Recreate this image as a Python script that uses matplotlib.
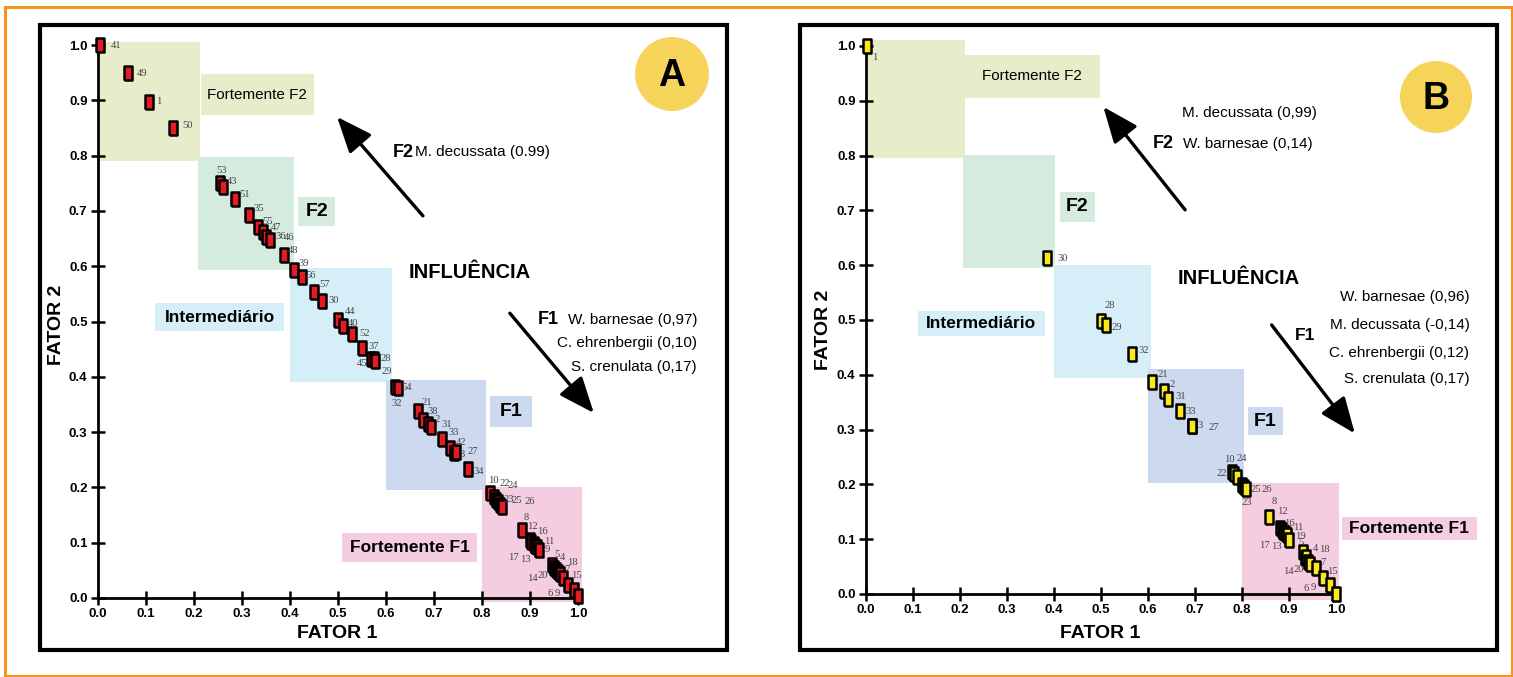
import matplotlib
matplotlib.use('Agg')
import matplotlib.pyplot as plt
from matplotlib.patches import Rectangle, Ellipse
import matplotlib.font_manager as fm

# ---------------- DATA ----------------
ticks = [0.0, 0.1, 0.2, 0.3, 0.4, 0.5, 0.6, 0.7, 0.8, 0.9, 1.0]
tick_labels = ['0.0', '0.1', '0.2', '0.3', '0.4', '0.5', '0.6', '0.7', '0.8', '0.9', '1.0']

# Panel A (sample id, fator 1, fator 2)
a_ids = ['41', '49', '1', '50', '53', '43', '51', '35', '55', '47', '36', '46', '48', '39',
         '56', '57', '30', '44', '40', '52', '37', '45', '28', '29', '32', '54', '21', '38',
         '2', '31', '33', '42', '3', '27', '34', '10', '22', '24', '23', '25', '26', '8',
         '12', '17', '16', '13', '11', '9', '5', '4', '18', '14', '20', '7', '15', '6', '9']
a_f1 = [0.005, 0.062, 0.106, 0.157, 0.254, 0.261, 0.285, 0.315, 0.334, 0.343, 0.351, 0.358,
        0.388, 0.409, 0.424, 0.450, 0.466, 0.501, 0.511, 0.529, 0.549, 0.569, 0.574, 0.577,
        0.619, 0.626, 0.667, 0.678, 0.687, 0.694, 0.717, 0.733, 0.742, 0.746, 0.771, 0.817,
        0.824, 0.829, 0.834, 0.838, 0.841, 0.883, 0.900, 0.903, 0.908, 0.910, 0.914, 0.918,
        0.945, 0.950, 0.954, 0.958, 0.963, 0.969, 0.980, 0.992, 1.000]
a_f2 = [1.000, 0.949, 0.897, 0.850, 0.750, 0.744, 0.722, 0.693, 0.670, 0.661, 0.652, 0.647,
        0.620, 0.594, 0.581, 0.553, 0.537, 0.503, 0.492, 0.477, 0.452, 0.432, 0.433, 0.429,
        0.382, 0.379, 0.338, 0.322, 0.315, 0.309, 0.288, 0.272, 0.262, 0.264, 0.233, 0.189,
        0.183, 0.178, 0.174, 0.169, 0.165, 0.123, 0.105, 0.102, 0.098, 0.094, 0.092, 0.087,
        0.060, 0.054, 0.051, 0.047, 0.043, 0.036, 0.024, 0.015, 0.004]

# Panel B
b_ids = ['1', '30', '28', '29', '32', '21', '2', '31', '33', '3', '27', '10', '22', '24', '23',
         '25', '26', '8', '12', '17', '16', '13', '11', '19', '5', '14', '4', '18', '20', '7',
         '15', '6', '9']
b_f1 = [0.002, 0.385, 0.501, 0.511, 0.565, 0.609, 0.633, 0.642, 0.668, 0.693, 0.694, 0.778,
        0.783, 0.789, 0.799, 0.804, 0.809, 0.858, 0.881, 0.885, 0.888, 0.892, 0.895, 0.900,
        0.929, 0.934, 0.936, 0.941, 0.945, 0.957, 0.972, 0.988, 1.000]
b_f2 = [1.000, 0.613, 0.499, 0.491, 0.438, 0.387, 0.370, 0.356, 0.334, 0.307, 0.306, 0.223,
        0.219, 0.214, 0.199, 0.195, 0.191, 0.141, 0.120, 0.117, 0.114, 0.111, 0.108, 0.099,
        0.077, 0.066, 0.068, 0.059, 0.055, 0.047, 0.029, 0.016, 0.000]

zone_names = ['Fortemente F2', 'F2', 'Intermediário', 'F1', 'Fortemente F1']
zone_colors = ['#E7ECCB', '#D4EBDE', '#D6EEF8', '#CDD9EF', '#F4CDE1']

a_inf_f1 = ['W. barnesae (0,97)', 'C. ehrenbergii (0,10)', 'S. crenulata (0,17)']
a_inf_f2 = ['M. decussata (0.99)']
b_inf_f1 = ['W. barnesae (0,96)', 'M. decussata (-0,14)', 'C. ehrenbergii (0,12)', 'S. crenulata (0,17)']
b_inf_f2 = ['M. decussata (0,99)', 'W. barnesae (0,14)']

# ---------------- LAYOUT / STYLE ----------------
W, H = 1513, 677
fig = plt.figure(figsize=(W / 100, H / 100), dpi=100)
fig.patch.set_facecolor('white')

avail = {f.name for f in fm.fontManager.ttflist}
def fam(*names):
    return [n for n in names if n in avail] + ['DejaVu Sans']
NARROW = fam('Liberation Sans Narrow', 'Liberation Sans')
SANS = fam('Liberation Sans', 'Arial')
SERIF = fam('Liberation Serif', 'DejaVu Serif')

# orange outer border and panel frames
fig.add_artist(Rectangle((5 / W, 1 - 676 / H), 1507 / W, 669 / H, transform=fig.transFigure,
                         fill=False, edgecolor='#F7941D', lw=2.2))
for (x0, y0, x1, y1) in [(40, 25, 727, 650), (800, 25, 1497, 650)]:
    fig.add_artist(Rectangle((x0 / W, 1 - y1 / H), (x1 - x0) / W, (y1 - y0) / H,
                             transform=fig.transFigure, fill=False, edgecolor='black', lw=3))

def make_axes(x0, y0, sx, sy, xlim, ylim):
    left = (x0 + sx * xlim[0]) / W
    width = sx * (xlim[1] - xlim[0]) / W
    bottom = 1 - (y0 - sy * ylim[0]) / H
    height = sy * (ylim[1] - ylim[0]) / H
    ax = fig.add_axes([left, bottom, width, height])
    ax.set_xlim(xlim)
    ax.set_ylim(ylim)
    ax.patch.set_alpha(0)
    for s in ['top', 'right']:
        ax.spines[s].set_visible(False)
    ax.spines['left'].set_position(('data', 0))
    ax.spines['bottom'].set_position(('data', 0))
    ax.spines['left'].set_bounds(0, 1)
    ax.spines['bottom'].set_bounds(0, 1)
    for s in ['left', 'bottom']:
        ax.spines[s].set_linewidth(2)
        ax.spines[s].set_zorder(2.5)
    ax.set_xticks(ticks)
    ax.set_yticks(ticks)
    ax.set_xticklabels(tick_labels)
    ax.set_yticklabels(tick_labels)
    ax.tick_params(direction='inout', length=10, width=1.8, pad=2.5)
    for lab in ax.get_xticklabels() + ax.get_yticklabels():
        lab.set_fontfamily(NARROW)
        lab.set_fontweight('bold')
        lab.set_fontsize(9.5)
    return ax

rect_marker = [(-0.3, -0.5), (0.3, -0.5), (0.3, 0.5), (-0.3, 0.5), (-0.3, -0.5)]

def draw_panel(ax, ids, f1, f2, color, offsets, zones, label_boxes, label_styles):
    for (x0, x1, y0, y1), c in zip(zones, zone_colors):
        ax.add_patch(Rectangle((x0, y0), x1 - x0, y1 - y0, facecolor=c, edgecolor='none', zorder=0.5))
    for (x0, x1, y0, y1), c, name, (fs, fw) in zip(label_boxes, zone_colors, zone_names, label_styles):
        ax.add_patch(Rectangle((x0, y0), x1 - x0, y1 - y0, facecolor=c, edgecolor='none', zorder=0.5))
        ax.text((x0 + x1) / 2, (y0 + y1) / 2, name, ha='center', va='center', fontsize=fs,
                fontweight=fw, family=SANS, zorder=1)
    ax.plot(f1, f2, linestyle='none', marker=rect_marker, markersize=10.5, markerfacecolor=color,
            markeredgecolor='black', markeredgewidth=1.8, zorder=3, clip_on=False)
    for i, (pid, x, y) in enumerate(zip(ids, f1, f2)):
        dx, dy = offsets.get(i, (5, 0))
        ax.annotate(pid, (x, y), xytext=(dx, dy), textcoords='offset pixels', ha='left', va='center',
                    fontsize=7.6, color='#444444', family=SERIF, zorder=4, annotation_clip=False)

def fig_text(x, y, s, **kw):
    fig.text(x / W, 1 - y / H, s, **kw)

def circle(cx, cy, r, letter):
    fig.add_artist(Ellipse((cx / W, 1 - cy / H), 2 * r / W, 2 * r / H, transform=fig.transFigure,
                           facecolor='#F6D45A', edgecolor='none'))
    fig_text(cx, cy + 2, letter, ha='center', va='center', fontsize=27, fontweight='bold', family=SANS)

styles = [(11, 'normal'), (14, 'bold'), (12.5, 'bold'), (14, 'bold'), (12.5, 'bold')]
arrow = dict(arrowstyle='-|>,head_length=1.1,head_width=0.45', lw=2.4, color='black', mutation_scale=20,
             shrinkA=0, shrinkB=0)
SPEC = 11

# ---------------- PANEL A ----------------
axA = make_axes(98, 598, 480, 553, (-0.06, 1.3), (-0.08, 1.04))
a_off_list = [(10, 0), (9, 0), (7, 0), (9, 2), (-4, 13), (4, 5), (5, 4), (4, 6), (4, 6), (8, 5),
              (9, 1), (14, 3), (4, 5), (4, 6), (4, 1), (5, 8), (7, 1), (6, 8), (5, 2), (7, 1),
              (7, 2), (-14, -4), (7, 0), (7, -11), (-4, -17), (3, 1), (3, 9), (4, 8), (7, 4),
              (10, 3), (6, 6), (6, 5), (5, -1), (11, 1), (5, -2), (-2, 13), (6, 13), (12, 14),
              (5, 2), (11, 4), (23, 5), (2, 12), (-3, 13), (-23, -16), (3, 12), (-15, -13),
              (7, 6), (6, 0), (3, 10), (6, 11), (11, 7), (-31, -6), (-23, -1), (1, 9), (3, 9),
              (-27, -4), (-23, 2)]
a_offsets = dict(enumerate(a_off_list))
a_zones = [(0.0, 0.2125, 0.791, 1.005), (0.209, 0.4077, 0.594, 0.798), (0.401, 0.612, 0.391, 0.596),
           (0.601, 0.808, 0.195, 0.394), (0.799, 1.008, -0.007, 0.201)]
a_lboxes = [(0.2139, 0.450, 0.873, 0.947), (0.417, 0.494, 0.673, 0.725), (0.119, 0.3875, 0.483, 0.533),
            (0.817, 0.9035, 0.31, 0.366), (0.508, 0.79, 0.065, 0.118)]
draw_panel(axA, a_ids, a_f1, a_f2, '#E31B23', a_offsets, a_zones, a_lboxes, styles)

axA.text(0.775, 0.5895, 'INFLUÊNCIA', ha='center', va='center', fontsize=14.5, fontweight='bold', family=SANS)
axA.annotate('', xy=(0.498, 0.870), xytext=(0.677, 0.691), arrowprops=arrow, annotation_clip=False)
axA.annotate('', xy=(1.033, 0.3345), xytext=(0.858, 0.515), arrowprops=arrow, annotation_clip=False)
axA.text(0.6146, 0.8065, 'F2', ha='left', va='center', fontsize=13, fontweight='bold', family=NARROW)
axA.text(0.660, 0.8065, a_inf_f2[0], ha='left', va='center', fontsize=SPEC, family=NARROW)
axA.text(0.917, 0.503, 'F1', ha='left', va='center', fontsize=13, fontweight='bold', family=NARROW)
for s, y in zip(a_inf_f1, [0.503, 0.461, 0.418]):
    axA.text(1.248, y, s, ha='right', va='center', fontsize=SPEC, family=NARROW)
circle(672, 74, 37, 'A')
fig_text(337, 634, 'FATOR 1', ha='center', va='center', fontsize=14, fontweight='bold', family=NARROW)
fig_text(56, 325, 'FATOR 2', ha='center', va='center', rotation=90, fontsize=14, fontweight='bold', family=NARROW)

# ---------------- PANEL B ----------------
axB = make_axes(866, 594, 470, 548, (-0.06, 1.33), (-0.08, 1.04))
b_off_list = [(5, -11), (10, 0), (3, 15), (5, -3), (7, 3), (5, 7), (6, 7), (8, 2), (5, -1), (6, 0),
              (16, -1), (-8, 12), (-18, 0), (0, 18), (0, -18), (7, -2), (15, 0), (2, 15), (-3, 17),
              (-23, -16), (1, 8), (-14, -13), (6, 7), (6, 3), (-4, 9), (-22, -14), (7, 8), (11, 12),
              (-17, -6), (4, 6), (4, 7), (-27, -3), (-25, 6)]
b_offsets = dict(enumerate(b_off_list))
b_zones = [(0.0, 0.21, 0.796, 1.011), (0.206, 0.402, 0.595, 0.801), (0.4006, 0.6057, 0.3947, 0.6),
           (0.6007, 0.804, 0.202, 0.41), (0.8007, 1.006, -0.011, 0.202)]
b_lboxes = [(0.21, 0.498, 0.905, 0.984), (0.413, 0.487, 0.679, 0.734), (0.11, 0.381, 0.47, 0.517),
            (0.813, 0.887, 0.29, 0.341), (1.012, 1.30, 0.0985, 0.141)]
draw_panel(axB, b_ids, b_f1, b_f2, '#F8E81C', b_offsets, b_zones, b_lboxes, styles)

axB.text(0.794, 0.5766, 'INFLUÊNCIA', ha='center', va='center', fontsize=14.5, fontweight='bold', family=SANS)
axB.annotate('', xy=(0.505, 0.889), xytext=(0.679, 0.701), arrowprops=arrow, annotation_clip=False)
axB.annotate('', xy=(1.040, 0.293), xytext=(0.863, 0.491), arrowprops=arrow, annotation_clip=False)
axB.text(0.672, 0.877, b_inf_f2[0], ha='left', va='center', fontsize=SPEC, family=NARROW)
axB.text(0.611, 0.822, 'F2', ha='left', va='center', fontsize=13, fontweight='bold', family=NARROW)
axB.text(0.675, 0.822, b_inf_f2[1], ha='left', va='center', fontsize=SPEC, family=NARROW)
axB.text(0.912, 0.4726, 'F1', ha='left', va='center', fontsize=12.5, fontweight='bold', family=NARROW)
for s, y in zip(b_inf_f1, [0.5425, 0.4909, 0.4404, 0.3918]):
    axB.text(1.284, y, s, ha='right', va='center', fontsize=SPEC, family=NARROW)
circle(1436, 97, 36, 'B')
fig_text(1100, 634, 'FATOR 1', ha='center', va='center', fontsize=14, fontweight='bold', family=NARROW)
fig_text(824, 330, 'FATOR 2', ha='center', va='center', rotation=90, fontsize=14, fontweight='bold', family=NARROW)

fig.savefig('out.png', dpi=100)
